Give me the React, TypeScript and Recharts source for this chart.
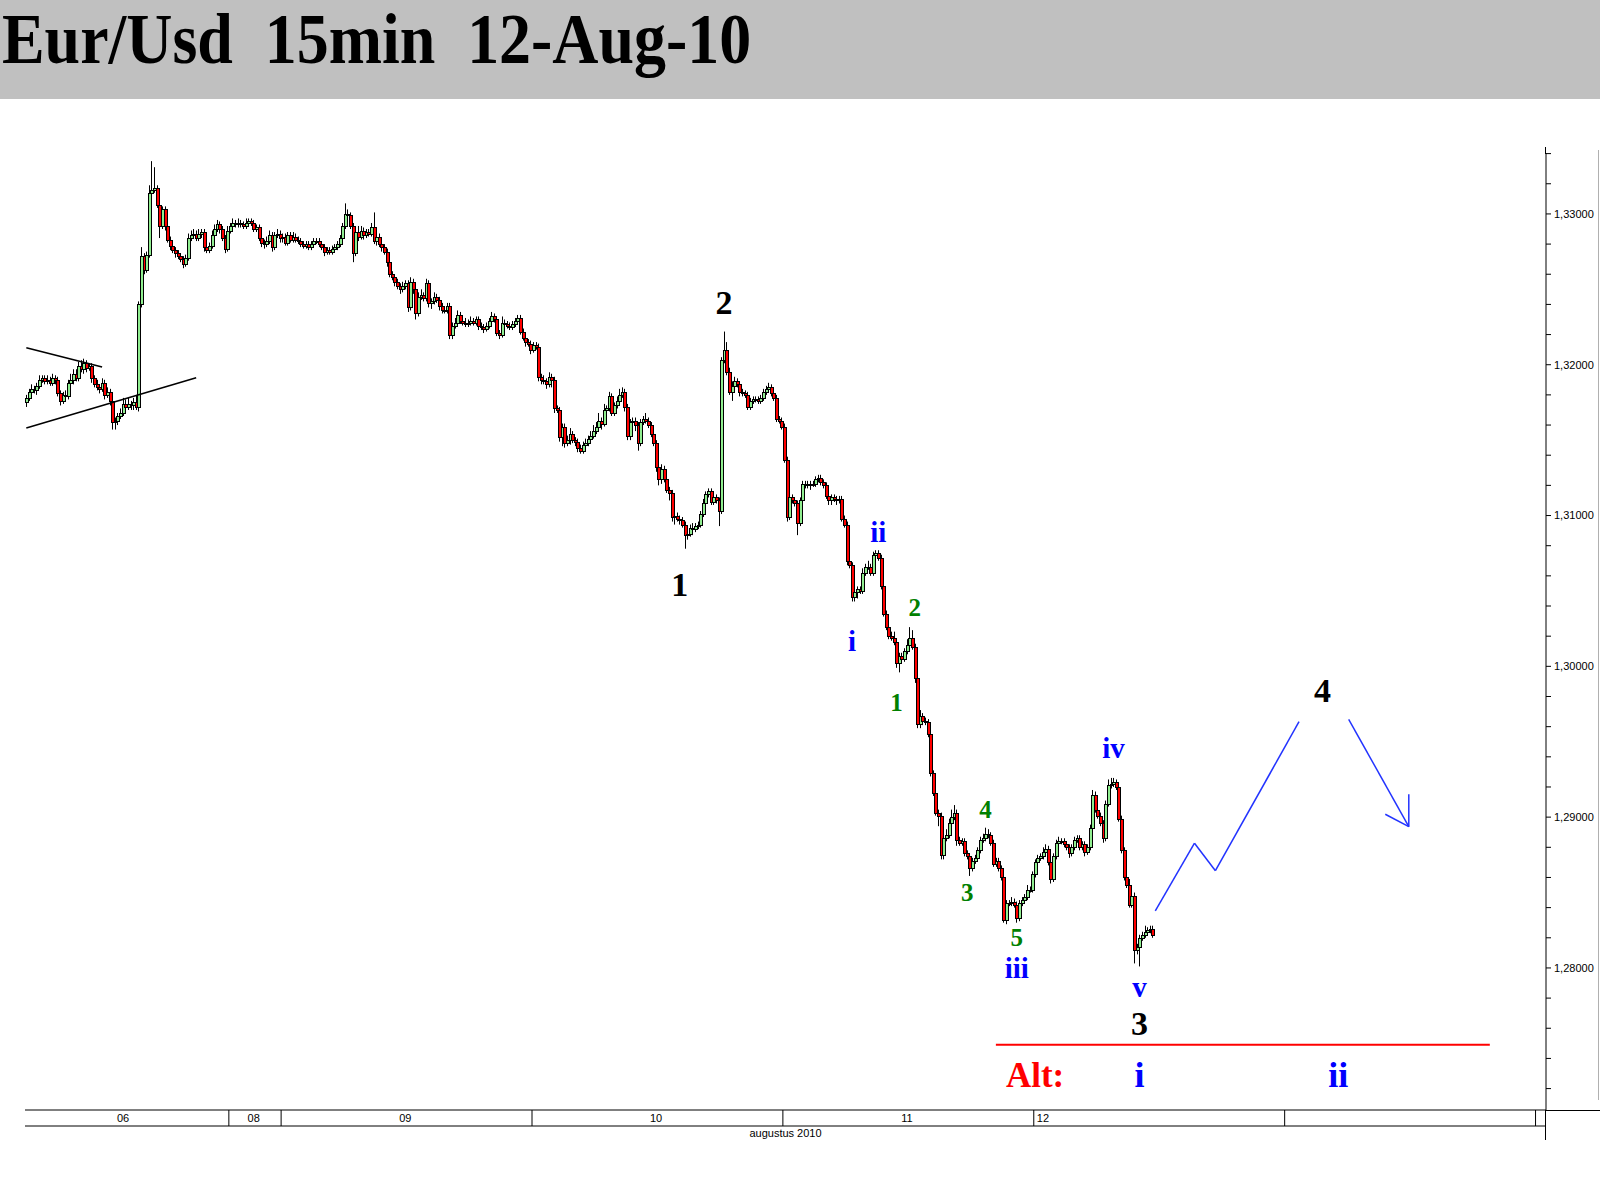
import React from 'react';
import { ComposedChart, Bar, XAxis, YAxis, ReferenceLine, ReferenceDot } from 'recharts';

// [close, upper wick (pips), lower wick (pips)] per 15 min bar
type Candle = [number, number, number];

const firstOpen = 1.3175;

const day06: Candle[] = [
  [1.3178,2,3],[1.3182,2,2],[1.3184,3,2],[1.3183,2,2],[1.3186,2,3],[1.3190,3,2],[1.3191,2,2],[1.3189,2,2],[1.3190,3,2],[1.3188,2,2],
  [1.3191,3,2],[1.3190,2,3],[1.3181,2,2],[1.3176,2,3],[1.3180,2,2],[1.3179,3,2],[1.3188,2,2],[1.3190,4,2],[1.3194,3,3],[1.3191,3,2],
  [1.3199,3,2],[1.3197,4,2],[1.3201,3,3],[1.3198,2,3],[1.3199,2,2],[1.3191,2,3],[1.3187,2,2],[1.3185,3,2],[1.3184,2,3],[1.3188,3,2],
  [1.3180,2,3],[1.3182,3,2],[1.3176,2,3],[1.3162,2,5],[1.3163,2,5],[1.3166,2,3],[1.3168,3,2],[1.3174,4,2],[1.3172,3,2],[1.3174,4,2],
  [1.3173,2,3],[1.3175,3,3],[1.3172,5,2],[1.3240,2,3],[1.3272,6,2],[1.3263,2,3],[1.3273,2,2],[1.3314,5,2],[1.3316,19,2],[1.3317,14,2],
  [1.3306,2,2],[1.3292,3,8],[1.3303,2,2],[1.3292,2,3],[1.3283,3,2],[1.3279,2,3],[1.3276,2,2],[1.3274,2,3],[1.3272,2,2],[1.3270,2,2],
  [1.3267,2,3],[1.3271,2,2],[1.3284,3,2],[1.3286,3,2],[1.3287,3,2],[1.3284,2,2],[1.3287,3,2],[1.3288,2,3],[1.3278,2,3],[1.3276,2,2],
  [1.3279,2,2],[1.3286,3,2],[1.3290,3,2],[1.3293,3,2],[1.3290,2,3],[1.3284,2,2],[1.3277,2,3],[1.3289,3,2],
];

const day08: Candle[] = [
  [1.3292,2,2],[1.3294,3,2],[1.3293,2,2],[1.3294,3,2],[1.3293,2,2],[1.3292,2,2],[1.3294,3,2],[1.3295,2,2],[1.3294,2,2],[1.3290,2,2],
  [1.3291,2,2],[1.3284,2,2],[1.3281,2,3],[1.3280,2,3],[1.3282,3,2],[1.3286,3,2],[1.3278,2,3],[1.3286,2,2],[1.3287,3,2],[1.3284,2,3],
];

const day09: Candle[] = [
  [1.3285,2,3],[1.3281,2,2],[1.3286,2,2],[1.3283,2,2],[1.3285,3,2],[1.3283,2,2],[1.3282,2,2],[1.3280,2,2],[1.3279,2,2],[1.3280,2,2],
  [1.3278,2,2],[1.3280,2,2],[1.3282,2,2],[1.3282,2,2],[1.3280,2,2],[1.3278,2,2],[1.3275,2,3],[1.3276,2,2],[1.3275,2,2],[1.3277,2,2],
  [1.3278,2,2],[1.3280,2,2],[1.3284,2,2],[1.3292,2,2],[1.3300,7,2],[1.3299,3,2],[1.3292,2,2],[1.3274,2,6],[1.3288,2,2],[1.3285,4,3],
  [1.3289,3,2],[1.3286,2,3],[1.3288,2,2],[1.3287,2,2],[1.3291,3,2],[1.3282,10,2],[1.3285,2,3],[1.3280,2,2],[1.3278,2,3],[1.3275,2,2],
  [1.3268,2,3],[1.3260,2,2],[1.3258,2,2],[1.3255,2,3],[1.3252,2,2],[1.3250,2,3],[1.3252,3,2],[1.3254,2,2],[1.3238,2,3],[1.3255,3,2],
  [1.3250,2,3],[1.3234,2,4],[1.3245,3,2],[1.3246,4,2],[1.3244,2,2],[1.3254,3,2],[1.3241,2,3],[1.3242,2,4],[1.3245,3,2],[1.3243,2,2],
  [1.3239,2,3],[1.3236,2,2],[1.3236,2,2],[1.3239,2,2],[1.3220,2,3],[1.3226,2,3],[1.3228,3,2],[1.3233,3,2],[1.3229,2,2],[1.3228,2,2],
  [1.3227,3,2],[1.3228,2,2],[1.3229,3,2],[1.3228,2,2],[1.3230,2,2],[1.3226,2,3],[1.3225,2,2],[1.3224,2,3],[1.3226,2,2],[1.3229,2,2],
  [1.3232,3,2],[1.3230,2,2],[1.3221,2,2],[1.3220,2,3],[1.3228,4,2],[1.3227,2,2],[1.3226,2,2],[1.3225,2,2],[1.3227,2,2],[1.3229,2,2],
  [1.3231,2,2],[1.3222,2,2],[1.3218,2,2],[1.3215,2,3],[1.3214,2,2],[1.3210,2,3],
];

const day10: Candle[] = [
  [1.3213,2,2],[1.3212,2,2],[1.3192,2,3],[1.3190,2,3],[1.3189,3,2],[1.3187,2,3],[1.3192,3,2],[1.3190,2,5],[1.3171,2,3],[1.3170,2,2],
  [1.3152,2,3],[1.3159,2,6],[1.3148,2,3],[1.3150,3,2],[1.3154,4,3],[1.3150,2,2],[1.3149,2,3],[1.3145,2,3],[1.3143,2,2],[1.3147,2,2],
  [1.3148,3,2],[1.3151,2,2],[1.3153,3,2],[1.3156,4,2],[1.3159,3,2],[1.3163,5,3],[1.3161,2,4],[1.3170,4,2],[1.3171,2,2],[1.3179,3,2],
  [1.3168,2,2],[1.3173,2,2],[1.3176,3,2],[1.3180,4,2],[1.3182,3,2],[1.3172,2,3],[1.3153,2,3],[1.3162,2,3],[1.3163,2,2],[1.3160,2,4],
  [1.3148,2,5],[1.3162,2,2],[1.3164,2,2],[1.3163,4,2],[1.3160,2,2],[1.3154,2,2],[1.3148,2,2],[1.3132,2,3],[1.3124,2,4],[1.3131,3,3],
  [1.3124,2,2],[1.3117,2,2],[1.3115,2,5],[1.3099,2,3],[1.3100,2,5],[1.3098,2,2],[1.3097,2,3],[1.3094,2,2],[1.3087,2,9],[1.3088,2,3],
  [1.3092,2,2],[1.3091,3,4],[1.3093,2,2],[1.3094,2,2],[1.3101,2,2],[1.3108,3,2],[1.3114,2,2],[1.3116,2,2],[1.3109,2,2],[1.3112,2,2],
  [1.3110,2,2],[1.3103,2,10],[1.3203,2,2],[1.3210,12,2],[1.3195,5,2],[1.3182,3,2],[1.3186,3,6],[1.3189,3,2],[1.3187,2,2],[1.3182,2,3],
  [1.3181,2,2],[1.3180,2,2],[1.3172,2,2],[1.3176,2,2],[1.3177,2,2],[1.3177,2,2],[1.3176,2,2],[1.3178,2,2],[1.3182,2,2],[1.3184,2,2],
  [1.3185,3,2],[1.3181,2,2],[1.3178,2,2],[1.3164,2,2],[1.3163,2,2],[1.3159,2,2],
];

const day11: Candle[] = [
  [1.3137,2,2],[1.3099,2,3],[1.3112,2,2],[1.3110,2,2],[1.3108,2,2],[1.3095,2,8],[1.3110,2,2],[1.3121,2,2],[1.3121,2,3],[1.3120,2,2],
  [1.3121,2,3],[1.3121,2,2],[1.3124,2,2],[1.3125,2,2],[1.3122,2,2],[1.3120,2,2],[1.3113,2,2],[1.3110,2,3],[1.3112,2,3],[1.3111,2,2],
  [1.3110,2,3],[1.3111,2,2],[1.3098,2,2],[1.3094,2,2],[1.3070,2,3],[1.3067,2,2],[1.3046,2,3],[1.3049,2,3],[1.3051,2,4],[1.3050,2,2],
  [1.3062,3,2],[1.3066,2,2],[1.3066,4,2],[1.3062,2,2],[1.3074,2,2],[1.3075,2,2],[1.3072,2,2],[1.3053,2,2],[1.3035,2,2],[1.3026,2,2],
  [1.3020,2,2],[1.3019,3,2],[1.3016,4,2],[1.3002,2,3],[1.3007,2,6],[1.3005,2,3],[1.3010,2,2],[1.3014,4,2],[1.3019,7,2],[1.3013,5,2],
  [1.2992,2,3],[1.2962,2,3],[1.2967,4,3],[1.2964,2,3],[1.2963,2,2],[1.2955,2,2],[1.2929,2,2],[1.2916,2,2],[1.2903,2,2],[1.2901,2,7],
  [1.2875,2,3],[1.2886,2,3],[1.2888,4,2],[1.2896,3,2],[1.2900,5,2],[1.2903,5,2],[1.2885,2,4],[1.2883,2,2],[1.2884,2,2],[1.2876,2,2],
  [1.2874,2,2],[1.2866,2,5],[1.2871,2,2],[1.2873,2,2],[1.2878,2,2],[1.2885,2,2],[1.2886,3,2],[1.2889,4,2],[1.2888,3,2],[1.2883,2,2],
  [1.2869,2,2],[1.2871,2,2],[1.2866,2,2],[1.2860,2,2],[1.2832,2,2],[1.2843,2,3],[1.2843,2,2],[1.2844,3,2],[1.2842,2,2],[1.2833,2,3],
  [1.2843,2,2],[1.2845,2,2],[1.2847,2,2],[1.2852,3,2],[1.2852,2,2],[1.2862,2,2],
];

const day12: Candle[] = [
  [1.2870,2,2],[1.2873,2,2],[1.2874,2,2],[1.2877,3,2],[1.2879,3,2],[1.2870,2,2],[1.2859,2,3],[1.2874,2,2],[1.2883,2,2],[1.2884,3,2],
  [1.2884,2,2],[1.2882,2,2],[1.2880,2,2],[1.2876,2,3],[1.2880,2,2],[1.2885,2,2],[1.2886,2,2],[1.2880,2,2],[1.2882,2,2],[1.2877,2,3],
  [1.2880,2,2],[1.2893,2,2],[1.2915,3,2],[1.2905,2,2],[1.2901,2,2],[1.2896,2,2],[1.2886,2,3],[1.2909,2,2],[1.2921,4,2],[1.2922,4,2],
  [1.2923,3,2],[1.2920,2,2],[1.2899,2,2],[1.2878,2,2],[1.2860,2,2],[1.2855,2,2],[1.2842,4,2],[1.2848,2,2],[1.2812,2,9],[1.2814,2,3],
  [1.2820,2,13],[1.2822,2,2],[1.2824,4,2],[1.2825,2,2],[1.2826,2,2],[1.2822,2,2],
];

// x axis: one slot per 15 min bar, up to the empty days on the right
const totalSlots = 582;
const daySeparators = [78, 98, 194, 290, 386, 482, 578];
const dayLabels: { slot: number; label: string; anchor: string }[] = [
  { slot: 37, label: '06', anchor: 'middle' },
  { slot: 87, label: '08', anchor: 'middle' },
  { slot: 145, label: '09', anchor: 'middle' },
  { slot: 241, label: '10', anchor: 'middle' },
  { slot: 337, label: '11', anchor: 'middle' },
  { slot: 386, label: '12', anchor: 'start' },
];

const priceDomain = [1.27058, 1.33404];
const priceTicks = [
  1.272, 1.274, 1.276, 1.278, 1.28, 1.282, 1.284, 1.286, 1.288, 1.29, 1.292, 1.294, 1.296, 1.298, 1.3, 1.302,
  1.304, 1.306, 1.308, 1.31, 1.312, 1.314, 1.316, 1.318, 1.32, 1.322, 1.324, 1.326, 1.328, 1.33, 1.332, 1.334,
];

// wave counts, placed at [slot, price]
const blackLabels = [
  { text: '1', slot: 250, price: 1.3054 },
  { text: '2', slot: 267, price: 1.3241 },
  { text: '3', slot: 426, price: 1.2763 },
  { text: '4', slot: 496, price: 1.2984 },
];
const blueLabels = [
  { text: 'i', slot: 316, price: 1.3017 },
  { text: 'ii', slot: 326, price: 1.3089 },
  { text: 'iii', slot: 379, price: 1.2800 },
  { text: 'iv', slot: 416, price: 1.2946 },
  { text: 'v', slot: 426, price: 1.2787 },
];
const greenLabels = [
  { text: '1', slot: 333, price: 1.2976 },
  { text: '2', slot: 340, price: 1.3039 },
  { text: '3', slot: 360, price: 1.2850 },
  { text: '4', slot: 367, price: 1.2905 },
  { text: '5', slot: 379, price: 1.2820 },
];
const altLabels = [
  { text: 'i', slot: 426, price: 1.2729 },
  { text: 'ii', slot: 502, price: 1.2729 },
];
const altTitle = { text: 'Alt:', slot: 386, price: 1.2729 };
const altLine = [{ x: 371, y: 1.2749 }, { x: 560, y: 1.2749 }];

const triangleLines = [
  [{ x: 0, y: 1.32113 }, { x: 29, y: 1.31985 }],
  [{ x: 0, y: 1.31581 }, { x: 65, y: 1.31914 }],
];
const forecastPath = [
  { x: 432, y: 1.28378 },
  { x: 447, y: 1.28827 },
  { x: 455, y: 1.28645 },
  { x: 487, y: 1.29633 },
];
const forecastDown = [
  [{ x: 506, y: 1.29649 }, { x: 529, y: 1.28937 }],
  [{ x: 520, y: 1.29019 }, { x: 529, y: 1.28937 }],
  [{ x: 529, y: 1.29152 }, { x: 529, y: 1.28937 }],
];

const allBars = [...day06, ...day08, ...day09, ...day10, ...day11, ...day12];
const pip = 0.0001;
const data = Array.from({ length: totalSlots }, (_, i) => {
  const b = allBars[i];
  if (!b) return { i };
  const open = i === 0 ? firstOpen : allBars[i - 1][0];
  const close = b[0];
  const high = Math.max(open, close) + b[1] * pip;
  const low = Math.min(open, close) - b[2] * pip;
  return { i, open, close, high, low, range: [low, high] };
});

const CandleShape = (props: any) => {
  const { x, y, width, height, payload } = props;
  if (!payload || payload.open === undefined) return null;
  const { open, close, high, low } = payload;
  const top = Math.min(y, y + height);
  const h = Math.abs(height);
  const span = high - low;
  const py = (p: number) => (span > 0 ? top + ((high - p) / span) * h : top);
  const n = Math.floor(x + width / 2);
  const bTop = Math.round(py(Math.max(open, close))) + 0.5;
  const bBot = Math.round(py(Math.min(open, close))) + 0.5;
  const up = close >= open;
  return (
    <g>
      <line x1={n + 0.5} x2={n + 0.5} y1={top} y2={top + h} stroke="#000" strokeWidth={1} />
      <rect
        x={n - 1 + 0.5}
        y={bTop}
        width={3}
        height={Math.max(bBot - bTop, 1)}
        fill={up ? '#90ee90' : '#ff0000'}
        stroke="#000"
        strokeWidth={1}
      />
    </g>
  );
};

const PriceTick = (props: any) => {
  const { x, y, payload } = props;
  const v = payload.value as number;
  const major = Math.round(v * 1000) % 10 === 0;
  return (
    <g>
      <line x1={x} x2={x + 5} y1={y} y2={y} stroke="#000" />
      {major && (
        <text x={x + 8} y={y} dy="0.35em" fontSize={11} fill="#000" fontFamily="Liberation Sans, Arial, sans-serif">
          {v.toFixed(5).replace('.', ',')}
        </text>
      )}
    </g>
  );
};

const DateTick = (props: any) => {
  const { x, y, payload } = props;
  const slot = payload.value as number;
  const half = payload.offset ?? 1.3;
  const isSep = daySeparators.includes(slot);
  const lab = dayLabels.find((d) => d.slot === slot);
  return (
    <g>
      {isSep && <line x1={x - half} x2={x - half} y1={y} y2={y + 16} stroke="#000" />}
      {lab && (
        <text
          x={lab.anchor === 'start' ? x - half + 3 : x}
          y={y + 8}
          dy="0.35em"
          textAnchor={lab.anchor as any}
          fontSize={11}
          fill="#000"
          fontFamily="Liberation Sans, Arial, sans-serif"
        >
          {lab.label}
        </text>
      )}
    </g>
  );
};

const textShape = (text: string, color: string, size: number) => (p: any) => (
  <text
    x={p.cx}
    y={p.cy}
    dy="0.34em"
    textAnchor="middle"
    fill={color}
    fontSize={size}
    fontWeight="bold"
    fontFamily="Liberation Serif, Times New Roman, serif"
  >
    {text}
  </text>
);

const xTicks = Array.from(new Set([...daySeparators, ...dayLabels.map((d) => d.slot)])).sort((a, b) => a - b);

export default function App() {
  return (
    <div style={{ position: 'absolute', left: 0, top: 0, width: 1600, height: 1200, background: '#fff', overflow: 'hidden' }}>
      <div style={{ position: 'absolute', left: 0, top: 0, width: 1600, height: 99, background: '#c0c0c0' }} />
      <div
        style={{
          position: 'absolute',
          left: 2,
          top: 4,
          fontFamily: 'Liberation Serif, Times New Roman, serif',
          fontWeight: 'bold',
          fontSize: 71,
          lineHeight: '71px',
          whiteSpace: 'pre',
          color: '#000',
          transform: 'scaleX(0.9)',
          transformOrigin: 'left top',
        }}
      >
        {'Eur/Usd  15min  12-Aug-10'}
      </div>
      <div style={{ position: 'absolute', left: 1598, top: 150, width: 1, height: 950, background: '#b0b0b0' }} />
      <div style={{ position: 'absolute', left: 1546, top: 1110, width: 54, height: 1, background: '#000' }} />
      <div style={{ position: 'absolute', left: 1545, top: 147, width: 1, height: 7, background: '#000' }} />
      <div style={{ position: 'absolute', left: 1545, top: 1110, width: 1, height: 30, background: '#000' }} />
      <div style={{ position: 'absolute', left: 0, top: 0 }}>
        <ComposedChart
          width={1600}
          height={1200}
          data={data}
          margin={{ top: 153, right: 0, bottom: 44, left: 25 }}
          barCategoryGap={0}
        >
          <XAxis
            dataKey="i"
            ticks={xTicks}
            interval={0}
            tick={(p: any) => <DateTick {...p} />}
            tickLine={false}
            tickSize={0}
            tickMargin={0}
            height={16}
            axisLine={{ stroke: '#000' }}
          />
          <XAxis
            xAxisId="base"
            dataKey="i"
            height={30}
            tick={false}
            tickLine={false}
            axisLine={{ stroke: '#000' }}
            label={{ value: 'augustus 2010', position: 'insideTop', offset: 3, fontSize: 11, fill: '#000', fontFamily: 'Liberation Sans, Arial, sans-serif' }}
          />
          <YAxis
            orientation="right"
            type="number"
            width={54}
            domain={priceDomain}
            allowDataOverflow
            ticks={priceTicks}
            interval={0}
            tick={(p: any) => <PriceTick {...p} />}
            tickLine={false}
            tickSize={0}
            tickMargin={0}
            axisLine={{ stroke: '#000' }}
          />
          <Bar dataKey="range" shape={(p: any) => <CandleShape {...p} />} isAnimationActive={false} />

          {triangleLines.map((seg, k) => (
            <ReferenceLine key={'t' + k} segment={seg} stroke="#000" strokeWidth={1.6} ifOverflow="visible" />
          ))}
          {forecastPath.slice(1).map((pt, k) => (
            <ReferenceLine key={'f' + k} segment={[forecastPath[k], pt]} stroke="#2233ff" strokeWidth={1.5} ifOverflow="visible" />
          ))}
          {forecastDown.map((seg, k) => (
            <ReferenceLine key={'d' + k} segment={seg} stroke="#2233ff" strokeWidth={1.5} ifOverflow="visible" />
          ))}
          <ReferenceLine segment={altLine} stroke="#ff0000" strokeWidth={2} ifOverflow="visible" />

          {blackLabels.map((l, k) => (
            <ReferenceDot key={'bl' + k} x={l.slot} y={l.price} r={1} ifOverflow="visible" shape={textShape(l.text, '#000', 34)} />
          ))}
          {blueLabels.map((l, k) => (
            <ReferenceDot key={'bu' + k} x={l.slot} y={l.price} r={1} ifOverflow="visible" shape={textShape(l.text, '#0000ff', 29)} />
          ))}
          {greenLabels.map((l, k) => (
            <ReferenceDot key={'gr' + k} x={l.slot} y={l.price} r={1} ifOverflow="visible" shape={textShape(l.text, '#008000', 25)} />
          ))}
          {altLabels.map((l, k) => (
            <ReferenceDot key={'al' + k} x={l.slot} y={l.price} r={1} ifOverflow="visible" shape={textShape(l.text, '#0000ff', 36)} />
          ))}
          <ReferenceDot x={altTitle.slot} y={altTitle.price} r={1} ifOverflow="visible" shape={textShape(altTitle.text, '#ff0000', 35)} />
        </ComposedChart>
      </div>
    </div>
  );
}
